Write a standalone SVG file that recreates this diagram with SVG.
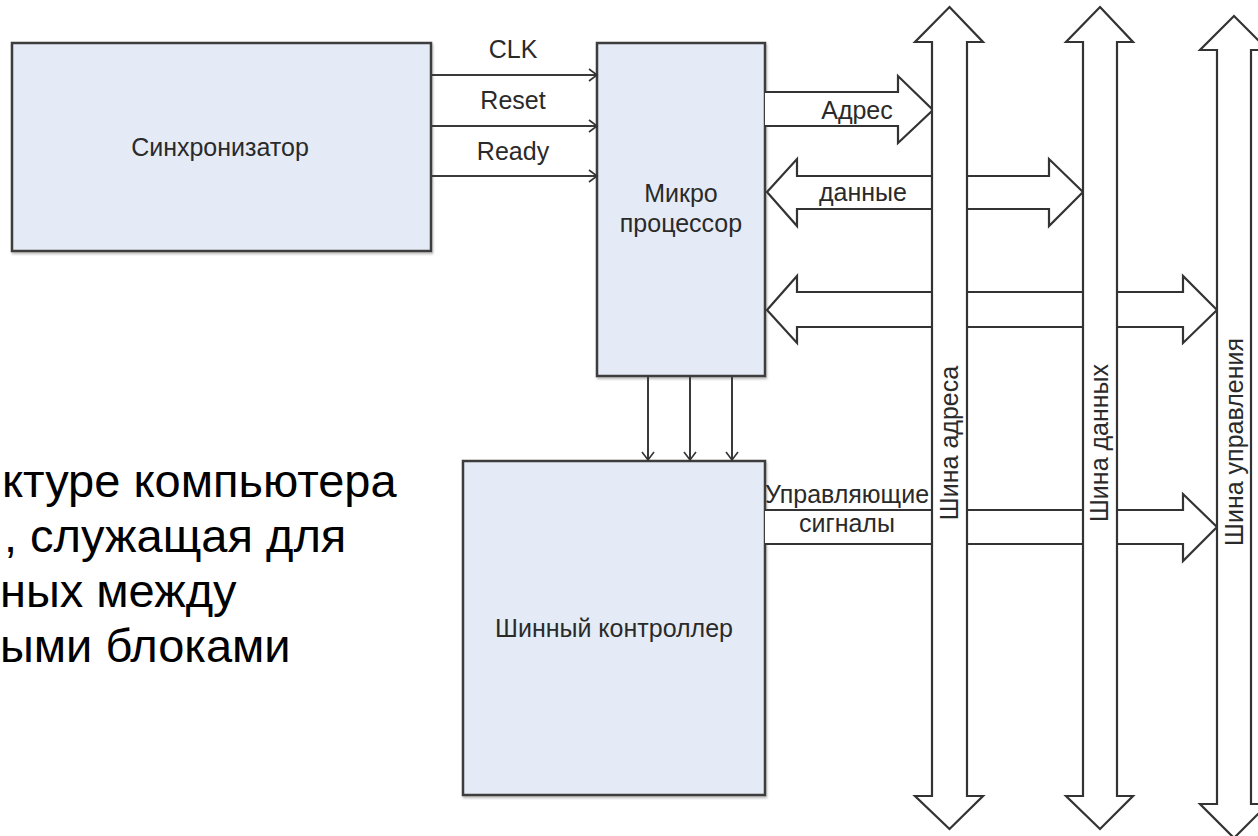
<svg xmlns="http://www.w3.org/2000/svg" width="1258" height="836" viewBox="0 0 1258 836">
  <defs>
    <marker id="v" markerWidth="12" markerHeight="14" refX="10" refY="7" orient="auto" markerUnits="userSpaceOnUse">
      <path d="M2,1 L10,7 L2,13" fill="none" stroke="#333" stroke-width="1.6"/>
    </marker>
    <filter id="sh" x="-5%" y="-5%" width="110%" height="110%">
      <feDropShadow dx="1" dy="2" stdDeviation="1" flood-color="#000" flood-opacity="0.25"/>
    </filter>
  </defs>
  <style>
    .box { fill: #E5EBF6; stroke: #3c3c3c; stroke-width: 2.5; }
    .lbl { font-family: "Liberation Sans", Arial, sans-serif; font-size: 25px; fill: #2a2a2a; text-anchor: middle; }
    .big { font-family: "Liberation Sans", Arial, sans-serif; font-size: 47px; fill: #000; }
    .thin { stroke: #3a3a3a; stroke-width: 2; fill: none; }
    .blk { fill: #fff; stroke: #333; stroke-width: 2.2; stroke-linejoin: miter; }
    .bus { fill: #fff; stroke: #333; stroke-width: 2.2; }
  </style>
  <rect width="1258" height="836" fill="#fff"/>

  <g id="left-text">
    <text class="big" x="2" y="497">ктуре компьютера</text>
    <text class="big" x="4" y="552">, служащая для</text>
    <text class="big" x="0" y="607">ных между</text>
    <text class="big" x="0" y="662">ыми блоками</text>
  </g>

  <g id="sync">
    <rect class="box" x="12" y="43" width="419" height="208" filter="url(#sh)"/>
    <text class="lbl" x="220" y="156">Синхронизатор</text>
  </g>

  <g id="cpu">
    <rect class="box" x="597" y="43" width="168" height="333" filter="url(#sh)"/>
    <text class="lbl" x="681" y="202">Микро</text>
    <text class="lbl" x="681" y="232">процессор</text>
  </g>

  <g id="controller">
    <rect class="box" x="463" y="461" width="302" height="334" filter="url(#sh)"/>
    <text class="lbl" x="614" y="637">Шинный контроллер</text>
  </g>

  <g id="connectors">
    <line class="thin" x1="431" y1="75" x2="597" y2="75" marker-end="url(#v)"/>
    <line class="thin" x1="431" y1="126" x2="597" y2="126" marker-end="url(#v)"/>
    <line class="thin" x1="431" y1="176" x2="597" y2="176" marker-end="url(#v)"/>
    <line class="thin" x1="648" y1="377" x2="648" y2="460" marker-end="url(#v)"/>
    <line class="thin" x1="690" y1="377" x2="690" y2="460" marker-end="url(#v)"/>
    <line class="thin" x1="732" y1="377" x2="732" y2="460" marker-end="url(#v)"/>

    <polyline class="blk" points="765,92 898,92 898,76 933,110 898,143 898,126 765,126"/>
    <polygon class="blk" points="767,192 797,159 797,176 1049,176 1049,159 1083,192 1049,226 1049,209 797,209 797,226"/>
    <polygon class="blk" points="767,310 797,276 797,292 1183,292 1183,276 1217,310 1183,343 1183,327 797,327 797,343"/>
    <polyline class="blk" points="765,510 1183,510 1183,494 1217,527 1183,561 1183,544 765,544"/>
  </g>

  <g id="bus-address">
    <polygon class="bus" points="949.5,7 983,42 967,42 967,796 983,796 949.5,829 915,796 932,796 932,42 915,42"/>
    <text class="lbl" transform="translate(958,443) rotate(-90)" x="0" y="0">Шина адреса</text>
  </g>
  <g id="bus-data">
    <polygon class="bus" points="1100,7 1133,42 1117,42 1117,796 1133,796 1100,829 1066,796 1083,796 1083,42 1066,42"/>
    <text class="lbl" transform="translate(1108,443) rotate(-90)" x="0" y="0">Шина данных</text>
  </g>
  <g id="bus-control">
    <polygon class="bus" points="1234,16 1268,50 1251,50 1251,804 1268,804 1234,838 1200,804 1217,804 1217,50 1200,50"/>
    <text class="lbl" transform="translate(1243,442) rotate(-90)" x="0" y="0">Шина управления</text>
  </g>

  <g id="labels">
    <text class="lbl" x="513" y="58">CLK</text>
    <text class="lbl" x="513" y="109">Reset</text>
    <text class="lbl" x="513" y="160">Ready</text>
    <text class="lbl" x="857" y="119">Адрес</text>
    <text class="lbl" x="863" y="201">данные</text>
    <text class="lbl" x="847" y="503">Управляющие</text>
    <text class="lbl" x="847" y="532">сигналы</text>
  </g>
</svg>
